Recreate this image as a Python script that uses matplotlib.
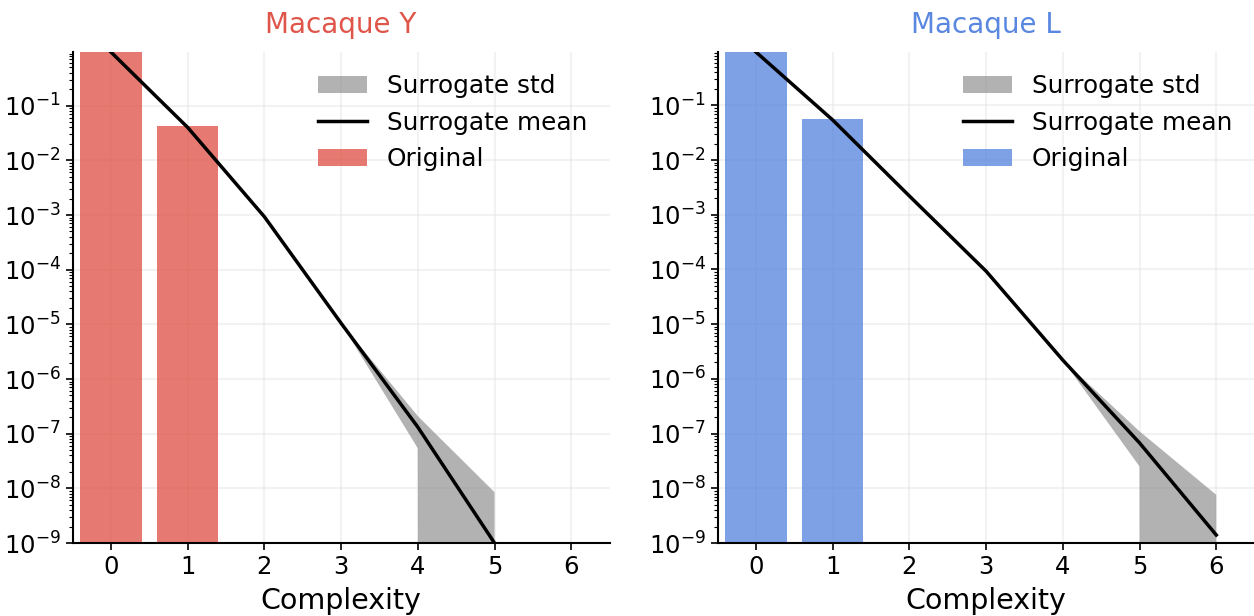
import numpy as np
import matplotlib.pyplot as plt

# complexity levels and the measured / surrogate distributions
complexity = np.arange(7)

orig_y = [0.957, 0.0433]
mean_y = [0.957, 0.040, 9.3e-4, 1.05e-5, 1.32e-7, 1.0e-9]
std_y = [0.0, 0.0, 0.0, 1e-8, 7.8e-8, 7.5e-9]

orig_l = [0.944, 0.0557]
mean_l = [0.944, 0.054, 2.2e-3, 9.3e-5, 2.2e-6, 6.75e-8, 1.4e-9]
std_l = [0.0, 0.0, 0.0, 0.0, 1e-8, 4.25e-8, 6.2e-9]

panels = [
    ("Macaque Y", "#e0554a", orig_y, mean_y, std_y),
    ("Macaque L", "#5a87e0", orig_l, mean_l, std_l),
]

fig = plt.figure(figsize=(12.54, 6.16), dpi=100)
axes = [fig.add_axes([0.0579, 0.1185, 0.4282, 0.797]),
        fig.add_axes([0.5723, 0.1185, 0.4282, 0.797])]

for ax, (title, col, orig, mean, std) in zip(axes, panels):
    mean = np.array(mean)
    std = np.array(std)
    x = complexity[:len(mean)]

    ax.set_yscale('log')
    ax.grid(True, which='major', color='#e6e6e6', linewidth=1.5, alpha=0.5, zorder=0)
    ax.set_axisbelow(True)

    ax.fill_between(x, mean - std, mean + std, color='gray', alpha=0.6,
                    linewidth=0, label='Surrogate std', zorder=2)
    ax.plot(x, mean, color='black', linewidth=2.5, label='Surrogate mean', zorder=3)
    ax.bar(complexity[:len(orig)], orig, width=0.8, color=col, alpha=0.78,
           label='Original', zorder=1)

    ax.set_xlim(-0.5, 6.5)
    ax.set_ylim(1e-9, orig[0])
    ax.set_xticks(complexity)
    ax.set_yticks([10.0 ** k for k in range(-9, 0)])
    ax.tick_params(axis='both', which='major', labelsize=17.5, width=1.2, length=5)
    ax.tick_params(axis='y', which='minor', width=0.8, length=3)

    ax.spines['top'].set_visible(False)
    ax.spines['right'].set_visible(False)
    ax.spines['left'].set_linewidth(1.5)
    ax.spines['bottom'].set_linewidth(1.5)

    ax.set_title(title, color=col, fontsize=20, pad=14)
    ax.set_xlabel('Complexity', fontsize=20.5, labelpad=6)
    ax.legend(loc='upper right', frameon=False, fontsize=17.8, handlelength=2.0,
              labelspacing=0.5, borderaxespad=0.5)

fig.savefig('out.png', dpi=100)
